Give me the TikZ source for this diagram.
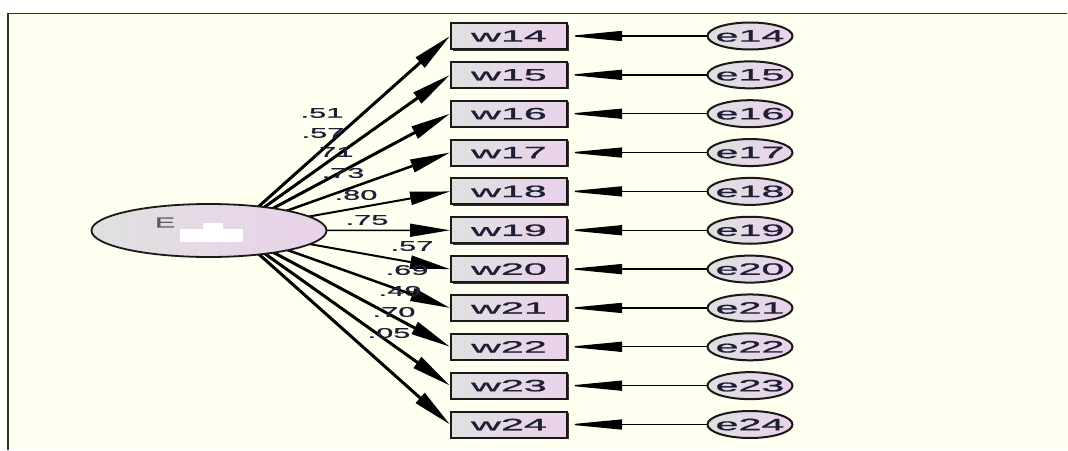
\documentclass[tikz,border=0pt]{standalone}
\usepackage{fontspec}
\setmainfont{Liberation Sans}
\newfontfamily\amosfont[FakeBold=0.8]{Liberation Sans}
\usetikzlibrary{arrows.meta,shapes.geometric,shadows}
\definecolor{bgy}{RGB}{254,255,238}
\definecolor{frm}{RGB}{50,50,50}
\definecolor{txtc}{RGB}{30,30,55}
\definecolor{grc}{RGB}{224,224,224}
\definecolor{pkc}{RGB}{234,210,234}
\pgfdeclarelayer{back}
\pgfdeclarelayer{links}
\pgfsetlayers{back,links,main}
\newcommand{\wtxt}[1]{\scalebox{2.5}[1]{\amosfont\fontsize{16.5}{18}\selectfont #1}}
\newcommand{\ltxt}[1]{\scalebox{2.2}[1]{\amosfont\fontsize{14}{16}\selectfont #1}}
\tikzset{
  wbox/.style={rectangle, draw=black!90, line width=2, minimum width=116, minimum height=26,
    inner sep=0, left color=grc, right color=pkc, text=txtc,
    drop shadow={shadow xshift=1.5pt, shadow yshift=-1.5pt, fill=black!80, opacity=1}},
  ebox/.style={ellipse, draw=black!90, line width=2, minimum width=85, minimum height=27,
    inner sep=0, left color=grc, right color=pkc},
  etext/.style={inner sep=0, text=txtc},
  latent/.style={ellipse, draw=black!90, line width=1.8, minimum width=235, minimum height=53,
    inner sep=0, left color=grc, right color=pkc},
  lab/.style={inner sep=0, text=txtc},
  larrow/.style={-{Triangle[length=40pt,width=13pt]}, black},
  earrow/.style={-{Triangle[length=54pt,width=10pt]}, line width=1.3, black}
}
\begin{document}
\begin{tikzpicture}[x=1pt,y=-1pt]
\useasboundingbox (0,0) rectangle (1068,450);
\begin{pgfonlayer}{back}
\fill[bgy] (6,11) rectangle (1067,450);
\draw[frm, line width=1.5] (8,13.5) -- (1067,13.5);
\draw[frm, line width=2.5] (8,13) -- (8,450);
\end{pgfonlayer}
% latent variable
\node[latent] (E) at (209,230.5) {};
\node[lab, text=black!65] (Elab) at (165,222.5) {\scalebox{2.1}[1]{\amosfont\fontsize{14.5}{16}\selectfont E}};
\fill[white] (180,229) rectangle (243,242);
\fill[white] (203,223) rectangle (223,230);
\coordinate (o) at (232,230.25);
% observed and error variables
\foreach \i [count=\k from 0] in {14,...,24} {
  \node[wbox] (w\i) at (509,{36+38.85*\k}) {\wtxt{w\i}};
  \node[ebox] (e\i) at (750,{36+38.85*\k}) {};
  \node[etext] (te\i) at (e\i) {\wtxt{e\i}};
  \draw[earrow] (e\i.west) -- (w\i.east);
}
% loadings
\begin{pgfonlayer}{links}
\foreach \i/\lw in {14/3,15/3,16/3,17/2.5,18/2,19/1.5,20/2,21/2.5,22/3,23/3,24/3} {
  \draw[larrow, line width=\lw] (o) -- (w\i.west);
}
\end{pgfonlayer}
\foreach \t/\x/\y [count=\k] in {.51/322/113, .57/323/133, .71/332/152, .73/343/173, .80/356/195, .75/367/220, .57/412/246, .69/407/270, .49/400/291, .70/394/312, .05/389/333} {
  \node[lab] (l\k) at (\x,\y) {\ltxt{\t}};
}
\end{tikzpicture}
\end{document}
